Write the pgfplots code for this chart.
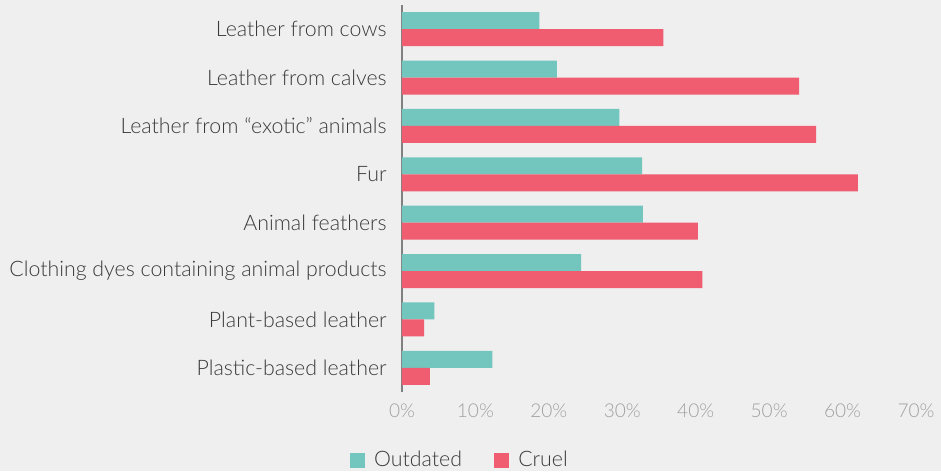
\documentclass[border=0pt]{standalone}
\usepackage{pgfplots}
\pgfplotsset{compat=1.18}
\usetikzlibrary{backgrounds}
\usepackage{fontspec}
\setmainfont{Lato}[UprightFont=* Light]
\definecolor{bg}{HTML}{EFEFEF}
\definecolor{teal}{HTML}{72C6BE}
\definecolor{cruel}{HTML}{F15D70}
\definecolor{lbl}{HTML}{3A3A3A}
\definecolor{tk}{HTML}{A0A0A0}
\begin{document}
\begin{tikzpicture}
\begin{axis}[
  name=ax,
  scale only axis,
  width=385.5pt, height=290.25pt,
  xbar, bar width=12.75pt,
  xmin=0, xmax=70,
  ymin=-0.5, ymax=7.5,
  xtick={0,10,...,70},
  xticklabel={\pgfmathprintnumber{\tick}\%},
  /pgf/number format/assume math mode=true,
  ytick={0,...,7},
  yticklabels={Plastic-based leather,Plant-based leather,Clothing dyes containing animal products,Animal feathers,Fur,Leather from ``exotic'' animals,Leather from calves,Leather from cows},
  axis x line*=bottom,
  x axis line style={draw=none},
  axis y line*=left,
  y axis line style={draw=tk!80!black, line width=1.4pt, -},
  major tick length=0pt,
  xticklabel style={font=\fontsize{14.3}{16}\selectfont, text=tk, yshift=-5pt},
  yticklabel style={font=\fontsize{16}{18}\selectfont, text=lbl, xshift=-8pt},
  legend style={at={(0.113,-0.176)}, anchor=center, draw=none, fill=none,
    legend columns=2, font=\fontsize{16}{18}\selectfont, text=lbl,
    /tikz/every odd column/.append style={column sep=5pt},
    /tikz/every even column/.append style={column sep=22pt}},
  legend image code/.code={\fill[#1] (0pt,-5.6pt) rectangle (11.25pt,5.6pt);},
]
\addplot[draw=none, fill=teal, bar shift=6.375pt] coordinates {
(12.3,0) (4.4,1) (24.4,2) (32.8,3) (32.7,4) (29.6,5) (21.1,6) (18.7,7)};
\addplot[draw=none, fill=cruel, bar shift=-6.375pt] coordinates {
(3.8,0) (3.0,1) (40.9,2) (40.3,3) (62.1,4) (56.4,5) (54.1,6) (35.6,7)};
\legend{Outdated,Cruel}
\end{axis}
\begin{scope}[on background layer]
\fill[bg] ([xshift=-301.5pt,yshift=-59.25pt]ax.south west) rectangle +(705.75pt,353.25pt);
\end{scope}
\pgfresetboundingbox
\useasboundingbox ([xshift=-301.5pt,yshift=-59.25pt]ax.south west) rectangle +(705.75pt,353.25pt);
\end{tikzpicture}
\end{document}
